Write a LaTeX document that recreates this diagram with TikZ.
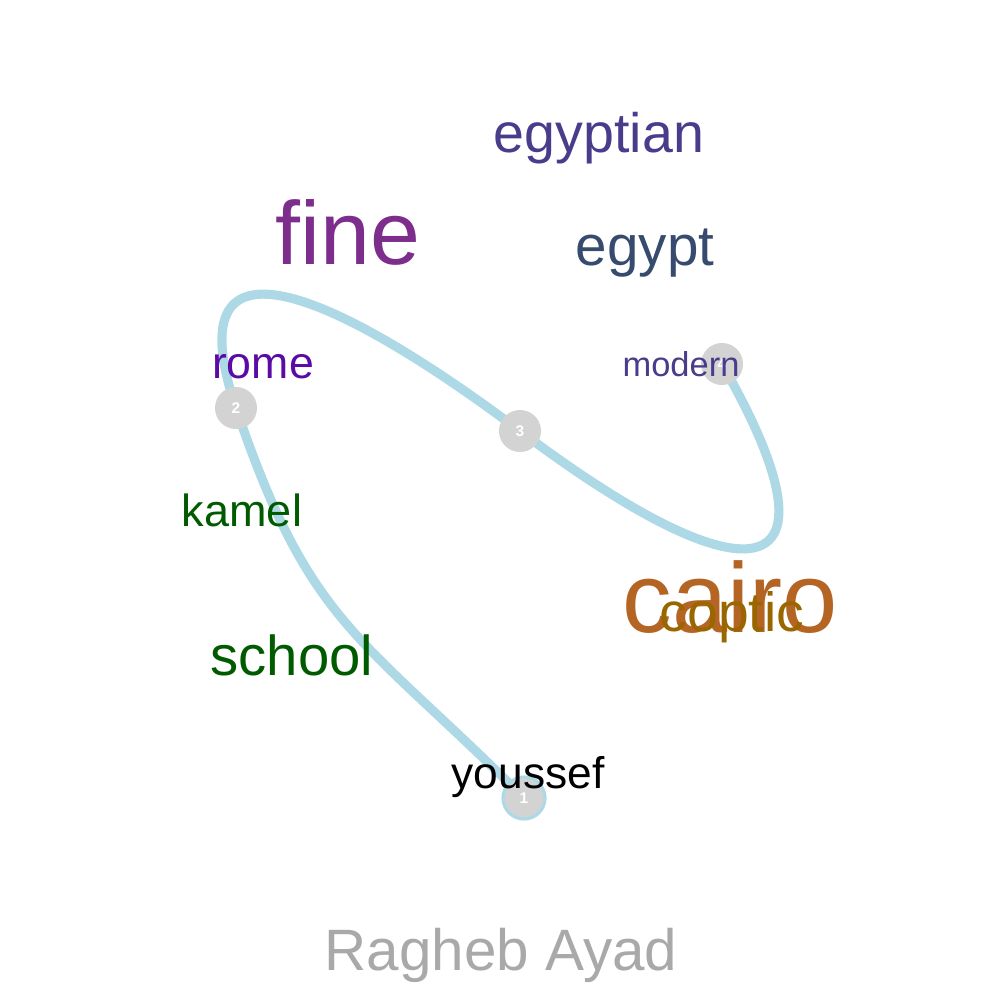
\documentclass[tikz,border=0pt]{standalone}
\usepackage{fontspec}
\setmainfont{Liberation Sans}
\usepackage{tikz}
\usetikzlibrary{backgrounds}
\definecolor{wdslate}{RGB}{72,61,139}
\definecolor{wdpurple}{RGB}{125,45,140}
\definecolor{wdsteel}{RGB}{55,75,110}
\definecolor{wdviolet}{RGB}{90,10,165}
\definecolor{wdgreen}{RGB}{0,90,0}
\definecolor{wdbrown}{RGB}{180,100,35}
\definecolor{wdochre}{RGB}{153,102,0}
\definecolor{wdgray}{RGB}{169,169,169}
\definecolor{wdroute}{RGB}{173,216,230}
\definecolor{wdstop}{RGB}{211,211,211}
\newcommand{\wsize}[1]{\fontsize{#1}{#1}\selectfont}

\begin{document}
\begin{tikzpicture}[x=0.01cm, y=-0.01cm,
  stop/.style={circle, fill=wdstop, minimum size=4.2mm, inner sep=0, text=white, font=\wsize{4.4}\bfseries},
  route/.style={draw=wdroute, line width=2.6pt},
  word/.style={anchor=base, inner sep=0}
]
\useasboundingbox (0,0) rectangle (1000,1000);
\node[stop, draw=wdroute, line width=0.9pt] (n1) at (524,798) {1};
\node[stop] (n2) at (236,408) {2};
\node[stop] (n3) at (520,431) {3};
\node[stop] (n4) at (722,364) {4};
\begin{scope}[on background layer]
\draw[route] (n1.center) .. controls (361,635) and (310,627) .. (n2.center)
  .. controls (175,228) and (320,281) .. (n3.center)
  .. controls (760,611) and (847,582) .. (n4.center);
\end{scope}
\node[word, wdslate, font=\wsize{15.8}] (egyptian) at (599,152) {egyptian};
\node[word, wdpurple, font=\wsize{25.5}] (fine) at (348,264) {fine};
\node[word, wdsteel, font=\wsize{16.1}] (egypt) at (645,265) {egypt};
\node[word, wdviolet, font=\wsize{12.7}] (rome) at (263,378) {rome};
\node[word, wdslate, font=\wsize{9.8}] (modern) at (681,376) {modern};
\node[word, wdgreen, font=\wsize{12.8}] (kamel) at (242,526) {kamel};
\node[word, wdgreen, font=\wsize{16}] (school) at (292,675) {school};
\node[word, wdbrown, font=\wsize{28.2}] (cairo) at (730,632) {cairo};
\node[word, wdochre, font=\wsize{15.7}] (coptic) at (732,631) {coptic};
\node[word, black, font=\wsize{12.6}] (youssef) at (528,788) {youssef};
\node[word, wdgray, font=\wsize{16.6}] (author) at (501,970) {Ragheb Ayad};
\end{tikzpicture}
\end{document}
